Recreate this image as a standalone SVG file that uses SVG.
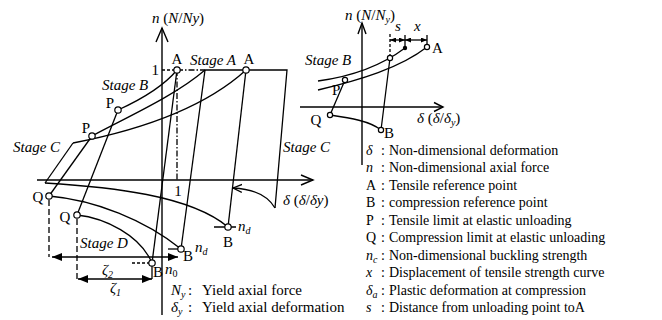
<svg xmlns="http://www.w3.org/2000/svg" width="662" height="320" viewBox="0 0 662 320">
<style>
.ln{fill:none;stroke:#000;stroke-width:1.3}
.ax{fill:none;stroke:#000;stroke-width:1.4}
.pt{fill:#fff;stroke:#000;stroke-width:1.2}
.t{font-family:"Liberation Serif","Times New Roman",serif;font-size:15px;fill:#000}
.lg{font-size:14px}
.i{font-style:italic}
.dsh{stroke-dasharray:6 3}
.sub{font-size:10px}
</style>
<defs>
<marker id="fa" viewBox="0 0 10 8" refX="10" refY="4" markerWidth="10" markerHeight="8" markerUnits="userSpaceOnUse" orient="auto-start-reverse"><path d="M0,0 L10,4 L0,8 z" fill="#000"/></marker>
<marker id="sa" viewBox="0 0 6 5" refX="6" refY="2.5" markerWidth="6" markerHeight="5" markerUnits="userSpaceOnUse" orient="auto-start-reverse"><path d="M0,0 L6,2.5 L0,5 z" fill="#000"/></marker>
<marker id="oa" viewBox="0 0 10 10" refX="9" refY="5" markerWidth="10" markerHeight="10" markerUnits="userSpaceOnUse" orient="auto"><path d="M0,1 L9,5 L0,9" fill="none" stroke="#000" stroke-width="1.3"/></marker>
</defs>

<g id="left-chart">
  <g id="left-axes">
    <line class="ax" x1="162" y1="28" x2="162" y2="315"/>
    <polyline class="ax" points="156,42 162,28 168,42"/>
    <line class="ax" x1="37" y1="180" x2="313" y2="180"/>
    <polyline class="ax" points="301,175 313,180 301,185"/>
    <text class="t" x="152" y="23"><tspan class="i">n</tspan> (<tspan class="i">N</tspan>/<tspan class="i">Ny</tspan>)</text>
    <text class="t" x="283" y="205"><tspan class="i">δ</tspan> (<tspan class="i">δ</tspan>/<tspan class="i">δy</tspan>)</text>
    <text class="t" x="159" y="75" text-anchor="end">1</text>
    <text class="t" x="178" y="196" text-anchor="middle">1</text>
  </g>
  <g id="left-connectors">
    <path class="ln" d="M162,70 H177" stroke-dasharray="3 2"/>
    <path class="ln" d="M177,70 H205" stroke-dasharray="6 2 1.5 2"/>
    <path class="ln" d="M205,70 H287 L275,208"/>
    <path class="ln" d="M177,70 V180" stroke-dasharray="6 2 1.5 2"/>
    <path class="ln" d="M177,70 L152,263"/>
    <path class="ln" d="M205,70 L181,249"/>
    <path class="ln" d="M246,70 L228,227"/>
    <path class="ln" d="M118,110 L77,215"/>
    <path class="ln" d="M92,136 L49,196"/>
    <path class="ln" d="M45,183 L73,143"/>
    <path class="ln" d="M118,110 C140,100 162,88 177,70"/>
    <path class="ln" d="M92,136 C125,118 175,96 205,70"/>
    <path class="ln" d="M73,143 C130,132 200,112 246,70"/>
    <path class="ln" d="M45,183 C110,187 190,195 228,227"/>
    <path class="ln" d="M49,196 C95,200 145,220 181,249"/>
    <path class="ln" d="M77,215 C105,218 140,235 152,263"/>
    <path class="ln" d="M275,208 C268,196 255,189 233,188" marker-end="url(#oa)"/>
    <path class="ln dsh" d="M49,200 V257"/>
    <path class="ln dsh" d="M77,219 V279"/>
    <path class="ln" d="M152,266 V279"/>
    <path class="ln" d="M52,257 H178" marker-start="url(#fa)" marker-end="url(#fa)"/>
    <path class="ln" d="M78,279 H152" marker-start="url(#fa)" marker-end="url(#fa)"/>
    <path class="ln" d="M132,263 H149" stroke-dasharray="3 2"/>
    <path class="ln" d="M168,249 H178"/>
    <path class="ln" d="M214,227 H225 M231,227 H236"/>
  </g>
  <g id="left-points">
    <circle class="pt" cx="177" cy="70" r="3.2"/>
    <circle class="pt" cx="246" cy="70" r="3.2"/>
    <circle class="pt" cx="118" cy="110" r="3.2"/>
    <circle class="pt" cx="92" cy="136" r="3.2"/>
    <circle class="pt" cx="49" cy="196" r="3.2"/>
    <circle class="pt" cx="77" cy="215" r="3.2"/>
    <circle class="pt" cx="152" cy="263" r="3.2"/>
    <circle class="pt" cx="181" cy="249" r="3.2"/>
    <circle class="pt" cx="228" cy="227" r="3.2"/>
  </g>
  <g id="left-labels">
    <text class="t" x="177" y="64" text-anchor="middle">A</text>
    <text class="t i" x="190" y="65">Stage A</text>
    <text class="t" x="249" y="64" text-anchor="middle">A</text>
    <text class="t i" x="102" y="90">Stage B</text>
    <text class="t" x="110" y="108" text-anchor="middle">P</text>
    <text class="t" x="86" y="133" text-anchor="middle">P</text>
    <text class="t i" x="13" y="152">Stage C</text>
    <text class="t i" x="283" y="152">Stage C</text>
    <text class="t" x="38" y="202" text-anchor="middle">Q</text>
    <text class="t" x="65" y="222" text-anchor="middle">Q</text>
    <text class="t i" x="80" y="248">Stage D</text>
    <text class="t i" x="102" y="275">ζ<tspan class="sub" dy="3">2</tspan></text>
    <text class="t i" x="110" y="293">ζ<tspan class="sub" dy="3">1</tspan></text>
    <text class="t" x="153" y="277">B</text>
    <text class="t i" x="165" y="274">n<tspan class="sub" dy="3" font-style="normal">0</tspan></text>
    <text class="t" x="183" y="261">B</text>
    <text class="t i" x="195" y="252">n<tspan class="sub" dy="3">d</tspan></text>
    <text class="t" x="228" y="247" text-anchor="middle">B</text>
    <text class="t i" x="238" y="231">n<tspan class="sub" dy="3">d</tspan></text>
  </g>
  <g id="left-legend">
    <text class="t i" x="171" y="295">N<tspan class="sub" dy="3">y</tspan></text>
    <text class="t" x="188" y="295">:</text>
    <text class="t" x="202" y="295">Yield axial force</text>
    <text class="t i" x="171" y="312">δ<tspan class="sub" dy="3">y</tspan></text>
    <text class="t" x="188" y="312">:</text>
    <text class="t" x="202" y="312">Yield axial deformation</text>
  </g>
</g>

<g id="right-chart">
  <g id="right-axes">
    <line class="ax" x1="362" y1="23" x2="362" y2="165"/>
    <polyline class="ax" points="358,34 362,23 366,34"/>
    <line class="ax" x1="300" y1="107" x2="443" y2="107"/>
    <polyline class="ax" points="434,102.5 443,107 434,111.5"/>
    <text class="t" x="345" y="20"><tspan class="i">n</tspan> (<tspan class="i">N</tspan>/<tspan class="i">N</tspan><tspan class="sub i" dy="3">y</tspan><tspan dy="-3">)</tspan></text>
    <text class="t" x="417" y="123"><tspan class="i">δ</tspan> (<tspan class="i">δ</tspan>/<tspan class="i">δ</tspan><tspan class="sub i" dy="3">y</tspan><tspan dy="-3">)</tspan></text>
  </g>
  <g id="right-connectors">
    <path class="ln" d="M318,81 C355,76 385,63 405,48"/>
    <path class="ln" d="M318,90 C360,80 400,68 427,47"/>
    <path class="ln" d="M345,80 L330,115"/>
    <path class="ln" d="M330,115 C350,118 370,121 381,130"/>
    <path class="ln" d="M381,130 L390,58"/>
    <path class="ln" d="M390,34 V56" stroke-dasharray="3 2"/>
    <path class="ln" d="M405,35 V46 M427,35 V44" stroke-width="1"/>
    <path class="ln" d="M390,40 H405" stroke-width="1" marker-start="url(#sa)" marker-end="url(#sa)"/>
    <path class="ln" d="M405,40 H427" stroke-width="1" marker-start="url(#sa)" marker-end="url(#sa)"/>
  </g>
  <g id="right-points">
    <circle class="pt" cx="345" cy="80" r="2.6"/>
    <circle class="pt" cx="330" cy="115" r="2.6"/>
    <circle class="pt" cx="381" cy="130" r="2.6"/>
    <circle class="pt" cx="390" cy="58" r="2.6"/>
    <circle class="pt" cx="427" cy="47" r="2.6"/>
    <circle cx="405" cy="48" r="2.2" fill="#000"/>
  </g>
  <g id="right-labels">
    <text class="t i" x="305" y="65">Stage B</text>
    <text class="t" x="332" y="95">P</text>
    <text class="t" x="316" y="125" text-anchor="middle">Q</text>
    <text class="t" x="384" y="138">B</text>
    <text class="t" x="432" y="53">A</text>
    <text class="t i" x="395" y="31">s</text>
    <text class="t i" x="414" y="31">x</text>
  </g>
</g>

<g id="legend" class="t lg">
  <text class="i" x="366" y="155">δ</text><text x="381" y="155">:</text><text x="389" y="155">Non-dimensional deformation</text>
  <text class="i" x="366" y="172.4">n</text><text x="381" y="172.4">:</text><text x="389" y="172.4">Non-dimensional axial force</text>
  <text x="366" y="189.9">A</text><text x="381" y="189.9">:</text><text x="389" y="189.9">Tensile reference point</text>
  <text x="366" y="207.3">B</text><text x="381" y="207.3">:</text><text x="389" y="207.3">compression reference point</text>
  <text x="366" y="224.8">P</text><text x="381" y="224.8">:</text><text x="389" y="224.8">Tensile limit at elastic unloading</text>
  <text x="366" y="242.2">Q</text><text x="381" y="242.2">:</text><text x="389" y="242.2">Compression limit at elastic unloading</text>
  <text class="i" x="366" y="259.7">n<tspan class="sub" dy="3">c</tspan></text><text x="381" y="259.7">:</text><text x="389" y="259.7">Non-dimensional buckling strength</text>
  <text class="i" x="366" y="277.1">x</text><text x="381" y="277.1">:</text><text x="389" y="277.1">Displacement of tensile strength curve</text>
  <text class="i" x="366" y="294.6">δ<tspan class="sub" dy="3">a</tspan></text><text x="381" y="294.6">:</text><text x="389" y="294.6">Plastic deformation at compression</text>
  <text class="i" x="366" y="312">s</text><text x="381" y="312">:</text><text x="389" y="312">Distance from unloading point toA</text>
</g>
</svg>
